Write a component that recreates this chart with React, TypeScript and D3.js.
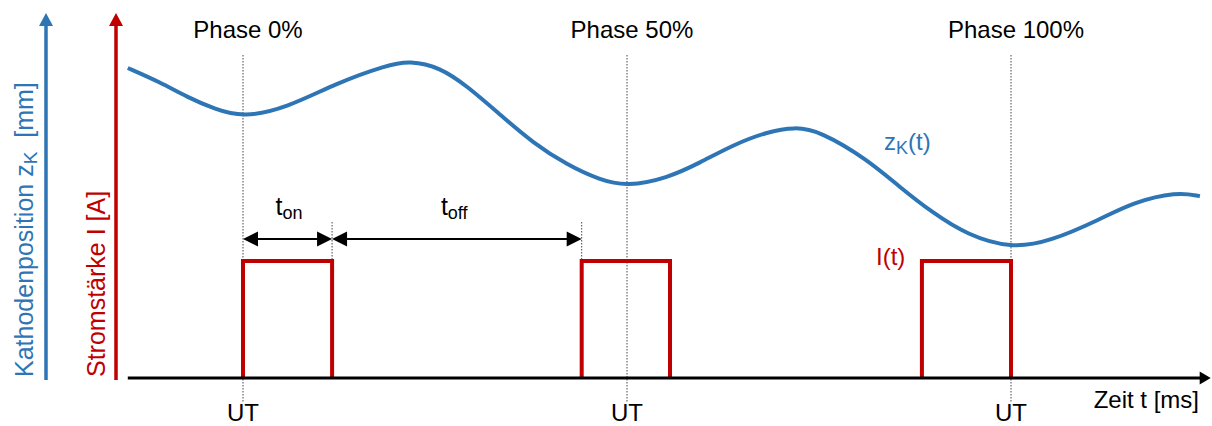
import { useMemo } from "react";
import { scaleLinear, line, curveBasis } from "d3";

// phase in % of one period (UT = 0, 50, 100)
const zPhase = [-15, -10.8, -7.3, -3.6, 0, 5.7, 12.2, 18.75, 21.7, 25.65, 29.2, 33.5, 37.8, 42.2, 46.5, 50, 55.2, 59.5, 63.8, 68.2, 71.9, 75.1, 81.25, 85.5, 89.8, 94.3, 100, 105.1, 111.6, 115.9, 121.6, 124.6];
// cathode position (arbitrary mm)
const zValue = [8.54, 8.15, 7.74, 7.4, 7.18, 7.44, 8.13, 8.62, 8.74, 8.56, 8.04, 7.25, 6.47, 5.87, 5.45, 5.28, 5.5, 5.93, 6.42, 6.78, 6.92, 6.8, 6.03, 5.26, 4.55, 3.94, 3.57, 3.76, 4.37, 4.84, 5.13, 5.01];

const pulseStart = [0, 44.1, 88.4];
const pulseEnd = [11.6, 55.6, 100];
const pulseCurrent = 1;

const utPhase = [0, 50, 100];
const phaseLabels = ["Phase 0%", "Phase 50%", "Phase 100%"];
const tonRange = [0, 11.6];
const toffRange = [11.6, 44.1];

const BLUE = "#2E75B6";
const RED = "#C00000";
const FONT = "'Liberation Sans', Arial, sans-serif";

function App() {
  const x = scaleLinear().domain([0, 100]).range([243, 1011]);
  const yZ = scaleLinear().domain([0, 10]).range([378, 15]);
  const yI = scaleLinear().domain([0, pulseCurrent]).range([378, 261]);

  const zPath = useMemo(
    () =>
      line<number>()
        .x((d, i) => x(zPhase[i]))
        .y((d) => yZ(d))
        .curve(curveBasis)(zValue),
    []
  );

  const pulsePath = (s: number, e: number) =>
    `M${x(s)},${yI(0)}V${yI(pulseCurrent)}H${x(e)}V${yI(0)}`;

  const axisY = yI(0);
  const x0 = x(-15);
  const x1 = x(126);
  const arrowY = 239;

  const dimArrow = (a: number, b: number) => {
    const xa = x(a);
    const xb = x(b);
    return (
      <g>
        <line x1={xa + 10} x2={xb - 10} y1={arrowY} y2={arrowY} stroke="#000" strokeWidth={2} />
        <path d={`M${xa},${arrowY}l15,-7.5v15z`} fill="#000" />
        <path d={`M${xb},${arrowY}l-15,-7.5v15z`} fill="#000" />
      </g>
    );
  };

  return (
    <svg
      width={1212}
      height={426}
      style={{ position: "absolute", left: 0, top: 0, background: "#fff" }}
      fontFamily={FONT}
    >
      {/* dotted guide lines */}
      {utPhase.map((p) => (
        <line key={p} x1={x(p)} x2={x(p)} y1={55} y2={402} stroke="#444" strokeWidth={1} strokeDasharray="1.5,1.5" />
      ))}
      {[tonRange[1], toffRange[1]].map((p) => (
        <line key={"m" + p} x1={x(p)} x2={x(p)} y1={222} y2={261} stroke="#444" strokeWidth={1} strokeDasharray="1.5,1.5" />
      ))}

      {/* left axes */}
      <line x1={46} x2={46} y1={380} y2={24} stroke={BLUE} strokeWidth={3.5} />
      <path d="M46,13l-7,13h14z" fill={BLUE} />
      <line x1={116} x2={116} y1={380} y2={24} stroke={RED} strokeWidth={3.5} />
      <path d="M116,13l-7,13h14z" fill={RED} />

      <text transform="translate(33,377) rotate(-90)" fill={BLUE} fontSize={25}>
        Kathodenposition z<tspan fontSize={19} dy={4}>K</tspan>
        <tspan dy={-4}>{"\u00A0\u00A0[mm]"}</tspan>
      </text>
      <text transform="translate(105,377) rotate(-90)" fill={RED} fontSize={25}>
        Stromstärke I [A]
      </text>

      {/* pulses */}
      {pulseStart.map((s, i) => (
        <path key={s} d={pulsePath(s, pulseEnd[i])} fill="none" stroke={RED} strokeWidth={4} />
      ))}

      {/* time axis */}
      <line x1={x0} x2={x1 - 8} y1={axisY} y2={axisY} stroke="#000" strokeWidth={3} />
      <path d={`M${x1},${axisY}l-11,-6.5v13z`} fill="#000" />

      {/* cathode position */}
      <path d={zPath ?? ""} fill="none" stroke={BLUE} strokeWidth={4} />

      {/* dimension arrows */}
      {dimArrow(tonRange[0], tonRange[1])}
      {dimArrow(toffRange[0], toffRange[1])}
      <text x={(x(tonRange[0]) + x(tonRange[1])) / 2 - 12} y={215} fontSize={25} fill="#000">
        t<tspan fontSize={18} dy={4}>on</tspan>
      </text>
      <text x={(x(toffRange[0]) + x(toffRange[1])) / 2 - 16} y={215} fontSize={25} fill="#000">
        t<tspan fontSize={18} dy={4}>off</tspan>
      </text>

      {/* labels */}
      {utPhase.map((p, i) => (
        <text key={"p" + p} x={x(p) + 5} y={38} fontSize={24} textAnchor="middle" fill="#000">
          {phaseLabels[i]}
        </text>
      ))}
      {utPhase.map((p) => (
        <text key={"u" + p} x={x(p)} y={421} fontSize={24} textAnchor="middle" fill="#000">
          UT
        </text>
      ))}
      <text x={1199} y={408} fontSize={24} textAnchor="end" fill="#000">
        Zeit t [ms]
      </text>
      <text x={884} y={150} fontSize={24} fill={BLUE}>
        z<tspan fontSize={18} dy={4}>K</tspan>
        <tspan dy={-4}>(t)</tspan>
      </text>
      <text x={876} y={265} fontSize={24} fill={RED}>
        I(t)
      </text>
    </svg>
  );
}

export default App;
